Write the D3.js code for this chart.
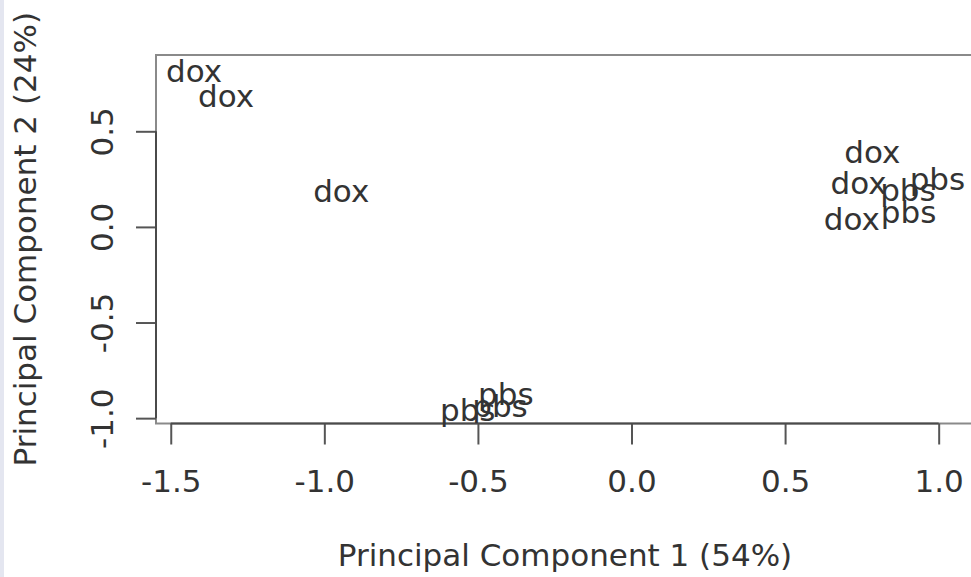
<!DOCTYPE html>
<html>
<head>
<meta charset="utf-8">
<script src="https://cdn.jsdelivr.net/npm/d3@7"></script>
<style>
  html, body { margin: 0; padding: 0; background: #fff; }
  svg { display: block; font-family: "DejaVu Sans", sans-serif; }
</style>
</head>
<body>
<svg id="chart" width="971" height="577"></svg>
<script>
// PCA sample scores, labelled by treatment group
const sampleLabels = ["dox", "dox", "dox", "dox", "dox", "dox",
                      "pbs", "pbs", "pbs", "pbs", "pbs", "pbs"];
const pc1Scores = [-1.424, -1.320, -0.945, 0.784, 0.739, 0.717,
                    0.996,  0.900,  0.902, -0.409, -0.533, -0.428];
const pc2Scores = [ 0.819,  0.686,  0.188, 0.392, 0.231, 0.043,
                    0.252,  0.196,  0.081, -0.872, -0.956, -0.934];

const xTicks = [-1.5, -1.0, -0.5, 0.0, 0.5, 1.0];
const yTicks = [-1.0, -0.5, 0.0, 0.5];
const xTitle = "Principal Component 1 (54%)";
const yTitle = "Principal Component 2 (24%)";

const W = 971, H = 577;
const plot = { left: 156, right: 974, top: 55, bottom: 423.5 };
const fontSize = 31;
const ink = "#333";

const svg = d3.select("#chart");
svg.append("rect").attr("width", W).attr("height", H).attr("fill", "#fff");
// thin window edge on the far left
svg.append("rect").attr("x", 0).attr("y", 0).attr("width", 4).attr("height", H)
   .attr("fill", "#e4e6f0");

const x = d3.scaleLinear().domain([-1.548, 1.115]).range([plot.left, plot.right]);
const y = d3.scaleLinear().domain([-1.028, 0.899]).range([plot.bottom, plot.top]);

const fmt = d => d.toFixed(1);

// plot box
svg.append("rect")
   .attr("x", plot.left).attr("y", plot.top)
   .attr("width", plot.right - plot.left).attr("height", plot.bottom - plot.top)
   .attr("fill", "none").attr("stroke", "#8a8a8a").attr("stroke-width", 2);

// bottom axis: line spans the tick range only
const gx = svg.append("g")
   .attr("transform", `translate(0,${plot.bottom})`)
   .call(d3.axisBottom(x).tickValues(xTicks).tickSize(21).tickSizeOuter(0).tickFormat(fmt));
gx.select(".domain").remove();
gx.append("line")
   .attr("x1", x(xTicks[0])).attr("x2", x(xTicks[xTicks.length - 1]))
   .attr("stroke", "#4a4a4a").attr("stroke-width", 2);
gx.selectAll(".tick line").attr("stroke", "#555").attr("stroke-width", 2);
gx.selectAll(".tick text")
   .attr("y", 68).attr("dy", 0)
   .attr("fill", ink).attr("font-size", fontSize)
   .attr("font-family", "DejaVu Sans");

// left axis: labels rotated parallel to the axis
const gy = svg.append("g")
   .attr("transform", `translate(${plot.left},0)`)
   .call(d3.axisLeft(y).tickValues(yTicks).tickSize(20).tickSizeOuter(0).tickFormat(fmt));
gy.select(".domain").remove();
gy.append("line")
   .attr("y1", y(yTicks[0])).attr("y2", y(yTicks[yTicks.length - 1]))
   .attr("stroke", "#4a4a4a").attr("stroke-width", 2);
gy.selectAll(".tick line").attr("stroke", "#555").attr("stroke-width", 2);
gy.selectAll(".tick text")
   .attr("x", null).attr("dy", null)
   .attr("transform", "translate(-43,0) rotate(-90)")
   .attr("text-anchor", "middle")
   .attr("fill", ink).attr("font-size", fontSize)
   .attr("font-family", "DejaVu Sans");

// sample labels drawn at their PC coordinates
svg.append("g").selectAll("text")
   .data(sampleLabels.map((lab, i) => ({ lab, pc1: pc1Scores[i], pc2: pc2Scores[i] })))
   .join("text")
   .attr("x", d => x(d.pc1))
   .attr("y", d => y(d.pc2))
   .attr("dy", "0.365em")
   .attr("text-anchor", "middle")
   .attr("font-size", fontSize)
   .attr("fill", ink)
   .text(d => d.lab);

// axis titles
svg.append("text")
   .attr("x", (plot.left + plot.right) / 2).attr("y", 566)
   .attr("text-anchor", "middle")
   .attr("font-size", fontSize).attr("fill", ink)
   .text(xTitle);

svg.append("text")
   .attr("transform", `translate(36,${(plot.top + plot.bottom) / 2}) rotate(-90)`)
   .attr("text-anchor", "middle")
   .attr("font-size", fontSize).attr("fill", ink)
   .text(yTitle);
</script>
</body>
</html>
